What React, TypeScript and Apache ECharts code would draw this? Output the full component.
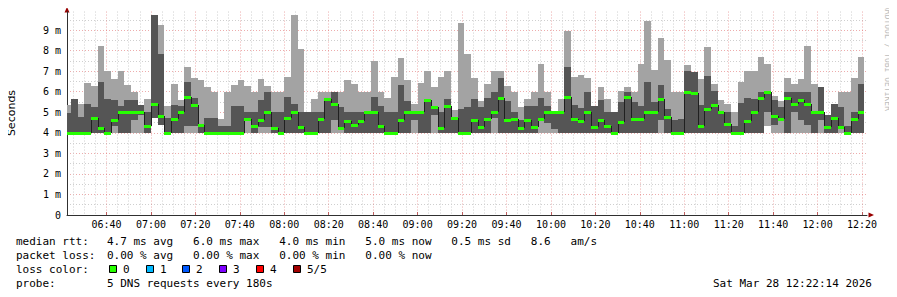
import React, { useEffect, useRef } from "react";
import * as echarts from "echarts";

// One probe round (5 DNS requests) every 180 s; the first bucket covers 06:21–06:24.
const firstStepStart = 6 * 60 + 21; // minutes after midnight
const stepMinutes = 3;
const graphEnd = 12 * 60 + 22 + 14 / 60;
const graphStart = graphEnd - 360;

const timeTickLabels = [
  "06:40", "07:00", "07:20", "07:40", "08:00", "08:20", "08:40", "09:00", "09:20",
  "09:40", "10:00", "10:20", "10:40", "11:00", "11:20", "11:40", "12:00", "12:20",
];
const rttTickValues = [0, 1, 2, 3, 4, 5, 6, 7, 8, 9];

// Sorted round-trip times per bucket, in milliseconds: fastest, 2nd, median, 4th, slowest.
const rttMin = [
  4, 4, 4, 4, 4, 4, 4, 4, 4, 4,
  4, 4, 4, 4.7, 4.38, 4, 4, 4, 4, 4,
  4, 4, 4, 4, 4, 4, 4, 4, 4, 4,
  4, 4, 4, 4, 4, 4, 4, 4, 4, 4,
  4, 4, 4, 4, 4, 4, 4, 4, 4, 4,
  4, 4, 4, 4, 4, 4, 4, 4, 4, 4,
  4, 4, 4, 4, 4, 4, 4, 4, 4, 4,
  4, 4, 4, 4, 4, 4, 4, 4, 4, 4,
  4, 4, 4, 4, 4, 4, 4, 4, 4, 4,
  4, 4, 4, 4, 4, 4, 4, 4, 4, 4,
  4, 4, 4, 4, 4, 4.35, 4, 4, 4, 4,
  4, 4, 4, 4, 4, 4, 4, 4, 4, 4,
];
const rttLow = [
  4, 4, 4, 4, 4, 4, 4, 4.35, 4, 4,
  4.6, 4.85, 4, 4.7, 4.38, 4, 4, 4, 4.35, 4.35,
  4, 4, 4, 4, 4, 4, 4, 4.6, 4, 4.3,
  4.3, 4, 4, 4, 4, 4, 4, 4, 4, 4,
  4.6, 4.2, 4, 4, 4, 4, 4, 4, 4, 4,
  4, 4, 4.6, 4, 4, 4.85, 4, 4, 4, 4,
  4, 4, 4, 4, 4.7, 4, 4, 4, 4, 4,
  4, 4.6, 4.5, 4.2, 4, 4, 4, 4, 4, 4,
  4, 4, 4, 4, 4, 4, 4, 4, 4, 4.6,
  4, 4, 4, 4, 4, 4, 4, 4, 4, 4,
  4, 4, 4, 4, 4, 5, 4.38, 4.65, 4, 5,
  4.6, 4.38, 4, 4.6, 4, 4, 4.2, 4, 4, 4,
];
const rttMedian = [
  4, 4, 4, 4, 4.7, 4.25, 4, 4.64, 5, 5,
  5, 5, 4.31, 5.38, 4.82, 4, 4.68, 5, 5.72, 5.35,
  4.38, 4, 4, 4, 4, 4, 4, 4.67, 4.31, 4.6,
  5, 4.25, 4, 4.73, 5, 4.28, 4, 4, 4.65, 5.64,
  5.38, 4.25, 4.57, 4.38, 4.57, 5, 5, 4.31, 4, 4,
  4.64, 5, 5, 5, 5.61, 5.24, 4.25, 5.32, 4.73, 4,
  4, 4.62, 4.28, 4.67, 5, 5.67, 4.6, 4.67, 4.25, 4.64,
  4.28, 4.67, 5, 5, 5, 5.72, 4.68, 4.57, 5, 4.28,
  4.6, 4.31, 4, 4.51, 5.72, 4.65, 4.67, 5, 5, 5.64,
  4.77, 4, 4, 6, 5.92, 4.34, 5.16, 5.35, 5, 4.41,
  4, 4, 4.57, 5, 5.67, 6, 4.82, 4.65, 5.67, 5.4,
  5.61, 5.38, 5, 5, 4.28, 4.7, 4.28, 4, 4.65, 5,
];
const rttHigh = [
  4.98, 5.65, 4.77, 5.4, 5.25, 6.45, 5.64, 5.59, 5.3, 5.6,
  5.59, 5.35, 5, 9.73, 7.83, 4.7, 5.35, 5.3, 6.45, 5.67,
  4.4, 4.73, 4.73, 4.35, 4.35, 5.3, 5.3, 5, 5, 5.59,
  5.97, 5, 5, 5.72, 5.4, 5, 5, 5, 5, 5.64,
  5.97, 5.24, 5, 5, 5, 5, 5.72, 5.3, 5, 5,
  6.32, 5.56, 5, 5, 5.61, 5.24, 5, 5.63, 4.73, 5.14,
  5.27, 5.64, 5.24, 5.67, 5.97, 6.68, 5.56, 5, 4.62, 5.3,
  5.3, 5.67, 5.3, 5, 5, 7.21, 5.35, 5.19, 5.97, 5.3,
  5.59, 5, 5, 5.51, 5.97, 5.51, 5.3, 6.45, 5.48, 6.32,
  5.16, 4.6, 4.65, 7, 6.97, 5.35, 6.76, 6.03, 5, 5,
  4.35, 5.46, 5.67, 5.64, 5.97, 6, 5.59, 5.24, 5.97, 5.97,
  5.97, 5.97, 5, 6.24, 4.86, 5.4, 5.24, 4.35, 5, 6.37,
];
const rttMax = [
  5.33, 5.65, 5.4, 6.42, 6.29, 8.22, 7, 6.62, 7, 6.32,
  5.97, 5.35, 5.64, 9.73, 9.24, 5.3, 6.37, 5.59, 7.21, 6.68,
  6.57, 6.23, 5.97, 4.65, 5.97, 6.32, 6.57, 6.29, 5.97, 6.62,
  6.29, 5.97, 5.97, 6.73, 9.73, 8.07, 5, 5.64, 5.97, 5.97,
  5.97, 5.97, 6.57, 6.37, 5.97, 5.97, 7.51, 5.97, 5.67, 6.73,
  7.65, 6.57, 5.4, 6.42, 7, 6.23, 6.73, 7, 5.09, 9.35,
  7.83, 6.68, 5.54, 6.37, 7, 7, 6.29, 5.97, 5.27, 5.64,
  5.97, 7.33, 5.97, 5, 5.64, 8.97, 6.73, 6.81, 6.68, 5.3,
  6.23, 5.64, 5, 6.03, 6.23, 5.97, 7.33, 9.45, 7.05, 8.63,
  7.54, 5.97, 5.97, 7.29, 6.97, 6.62, 8.17, 6.37, 5.59, 5.4,
  5, 6.45, 7, 7, 7.67, 7.33, 5.8, 5.56, 6.68, 6.37,
  6.62, 8.22, 6.37, 6.24, 4.86, 5.4, 5.97, 5.97, 6.68, 7.7,
];

const lossLabels = ["0", "1", "2", "3", "4", "5/5"];
const lossColors = ["#26ff00", "#00b8ff", "#0059ff", "#7e00ff", "#ff0000", "#a10000"];

const rttSummary = "4.7 ms avg   6.0 ms max   4.0 ms min   5.0 ms now   0.5 ms sd   8.6   am/s";
const lossSummary = "0.00 % avg   0.00 % max   0.00 % min   0.00 % now";
const probeText = "5 DNS requests every 180s";
const stampText = "Sat Mar 28 12:22:14 2026";

const MONO = "DejaVu Sans Mono";
const smokeOuter = "#a3a3a3";
const smokeInner = "#555555";
const majorGrid = "rgba(220, 90, 90, 0.5)";
const minorGrid = "#cfcfcf";

const toMinutes = (s: string) => {
  const [h, m] = s.split(":").map(Number);
  return h * 60 + m;
};
const fmtTime = (v: number) => {
  const h = Math.floor(v / 60);
  const m = Math.round(v - h * 60);
  return `${String(h).padStart(2, "0")}:${String(m).padStart(2, "0")}`;
};

const majorTimeTicks = timeTickLabels.map(toMinutes);
const minorTimeTicks: number[] = [];
for (let m = Math.ceil(graphStart / 5) * 5; m <= graphEnd; m += 5) {
  if (m % 20 !== 0) minorTimeTicks.push(m);
}
const minorRttTicks = rttTickValues.map((v) => v + 0.5);

const steps = rttMedian.map((med, i) => [
  firstStepStart + i * stepMinutes,
  firstStepStart + (i + 1) * stepMinutes,
  rttMin[i],
  rttLow[i],
  med,
  rttHigh[i],
  rttMax[i],
  i > 0 ? rttMedian[i - 1] : med,
]);

// plot geometry (pixels)
const PLOT_LEFT = 67;
const PLOT_WIDTH = 800;
const X_AXIS_Y = 215;
const PX_PER_MS = 20.55;
const Y_MAX = 9.9;
const PLOT_TOP = X_AXIS_Y - Y_MAX * PX_PER_MS;

function stepBounds(params: any, api: any) {
  const cs = params.coordSys;
  const xa = Math.round(Math.max(api.coord([api.value(0), 0])[0], cs.x));
  const xb = Math.round(Math.min(api.coord([api.value(1), 0])[0], cs.x + cs.width));
  return [xa, xb];
}

export default function App() {
  const ref = useRef<HTMLDivElement>(null);

  useEffect(() => {
    if (!ref.current) return;
    const chart = echarts.init(ref.current, undefined, { renderer: "svg" });

    const textStyle = (text: string, x: number, y: number, extra: any = {}) => ({
      type: "text",
      x,
      y,
      silent: true,
      style: {
        text,
        fill: "#000",
        fontFamily: MONO,
        fontSize: 11,
        align: "left",
        verticalAlign: "middle",
        textAlign: "left",
        textVerticalAlign: "middle",
        ...extra,
      },
    });

    const legendItems: any[] = [];
    lossLabels.forEach((label, i) => {
      const x = 109 + i * 36.7;
      legendItems.push({
        type: "rect",
        silent: true,
        shape: { x: Math.round(x) + 0.5, y: 265.5, width: 7, height: 7 },
        style: { fill: lossColors[i], stroke: "#000", lineWidth: 1 },
      });
      legendItems.push(textStyle(label, Math.round(x) + 14, 269.5));
    });

    chart.setOption({
      animation: false,
      backgroundColor: "#ffffff",
      grid: {
        left: PLOT_LEFT,
        top: PLOT_TOP,
        width: PLOT_WIDTH,
        height: X_AXIS_Y - PLOT_TOP,
        containLabel: false,
      },
      xAxis: [
        {
          type: "value",
          min: graphStart,
          max: graphEnd,
          position: "bottom",
          axisLine: { show: true, lineStyle: { color: "#303030", width: 1 } },
          axisTick: { show: true, customValues: majorTimeTicks, length: 3, inside: true, lineStyle: { color: "#c06060" } },
          axisLabel: {
            customValues: majorTimeTicks,
            formatter: (v: number) => fmtTime(v),
            fontFamily: MONO,
            fontSize: 10,
            color: "#000",
            margin: 4,
          },
          splitLine: { show: true, lineStyle: { color: majorGrid, type: [1, 2], width: 1 } },
        },
        {
          type: "value",
          min: graphStart,
          max: graphEnd,
          position: "top",
          axisLine: { show: false },
          axisLabel: { show: false },
          axisTick: { show: false, customValues: minorTimeTicks },
          splitLine: { show: true, lineStyle: { color: minorGrid, type: [1, 2], width: 1 } },
        },
      ],
      yAxis: [
        {
          type: "value",
          min: 0,
          max: Y_MAX,
          position: "left",
          axisLine: { show: true, lineStyle: { color: "#303030", width: 1 } },
          axisTick: { show: false, customValues: rttTickValues },
          axisLabel: {
            customValues: rttTickValues,
            formatter: (v: number) => (v === 0 ? "0" : `${v} m`),
            fontFamily: MONO,
            fontSize: 10,
            color: "#000",
            margin: 6,
          },
          splitLine: { show: true, lineStyle: { color: majorGrid, type: [1, 2], width: 1 } },
        },
        {
          type: "value",
          min: 0,
          max: Y_MAX,
          position: "right",
          axisLine: { show: false },
          axisLabel: { show: false },
          axisTick: { show: false, customValues: minorRttTicks },
          splitLine: { show: true, lineStyle: { color: minorGrid, type: [1, 2], width: 1 } },
        },
      ],
      series: [
        {
          name: "smoke",
          type: "custom",
          xAxisIndex: 0,
          yAxisIndex: 0,
          silent: true,
          data: steps,
          encode: { x: [0, 1], y: [2, 6] },
          renderItem: (params: any, api: any) => {
            const [xa, xb] = stepBounds(params, api);
            if (xb <= xa) return null;
            const y = (v: number) => Math.round(api.coord([api.value(0), v])[1]);
            const yMin = y(api.value(2) as number);
            const yLow = y(api.value(3) as number);
            const yHigh = y(api.value(5) as number);
            const yMax = y(api.value(6) as number);
            return {
              type: "group",
              children: [
                { type: "rect", shape: { x: xa, y: yMax, width: xb - xa, height: yMin - yMax }, style: { fill: smokeOuter } },
                { type: "rect", shape: { x: xa, y: yHigh, width: xb - xa, height: yLow - yHigh }, style: { fill: smokeInner } },
              ],
            };
          },
          z: 2,
        },
        {
          name: "median rtt",
          type: "custom",
          xAxisIndex: 0,
          yAxisIndex: 0,
          silent: true,
          data: steps,
          encode: { x: [0, 1], y: 4 },
          renderItem: (params: any, api: any) => {
            const [xa, xb] = stepBounds(params, api);
            if (xb <= xa) return null;
            const y = (v: number) => Math.round(api.coord([api.value(0), v])[1]);
            const yMed = y(api.value(4) as number);
            const yPrev = y(api.value(7) as number);
            const children: any[] = [];
            if (params.dataIndex > 0 && yPrev !== yMed) {
              children.push({
                type: "line",
                shape: { x1: xa + 0.5, y1: yPrev, x2: xa + 0.5, y2: yMed },
                style: { stroke: "#202020", lineWidth: 1 },
              });
            }
            children.push({
              type: "rect",
              shape: { x: xa, y: yMed - 1, width: xb - xa, height: 3 },
              style: { fill: lossColors[0] },
            });
            return { type: "group", children };
          },
          z: 3,
        },
      ],
      graphic: [
        {
          type: "polygon",
          silent: true,
          shape: { points: [[64.5, 12.5], [69.5, 12.5], [67, 7]] },
          style: { fill: "#990000" },
        },
        {
          type: "polygon",
          silent: true,
          shape: { points: [[868.5, 212.5], [868.5, 217.5], [874, 215]] },
          style: { fill: "#990000" },
        },
        {
          type: "text",
          x: 11,
          y: 113,
          rotation: Math.PI / 2,
          silent: true,
          style: {
            text: "Seconds",
            fill: "#000",
            fontFamily: "DejaVu Sans",
            fontSize: 11,
            align: "center",
            verticalAlign: "middle",
            textAlign: "center",
            textVerticalAlign: "middle",
          },
        },
        {
          type: "text",
          x: 887,
          y: 5,
          rotation: -Math.PI / 2,
          silent: true,
          style: {
            text: "RRDTOOL / TOBI OETIKER",
            fill: "#bdbdbd",
            fontFamily: MONO,
            fontSize: 8,
            align: "left",
            verticalAlign: "middle",
            textAlign: "left",
            textVerticalAlign: "middle",
          },
        },
        textStyle("median rtt:", 16, 241.5),
        textStyle(rttSummary, 107, 241.5),
        textStyle("packet loss:", 16, 255.5),
        textStyle(lossSummary, 107, 255.5),
        textStyle("loss color:", 16, 269.5),
        ...legendItems,
        textStyle("probe:", 16, 283.5),
        textStyle(probeText, 107, 283.5),
        textStyle(stampText, 713, 283.5),
      ],
    });

    return () => chart.dispose();
  }, []);

  return <div ref={ref} style={{ width: 897, height: 297, margin: -8 }} />;
}
